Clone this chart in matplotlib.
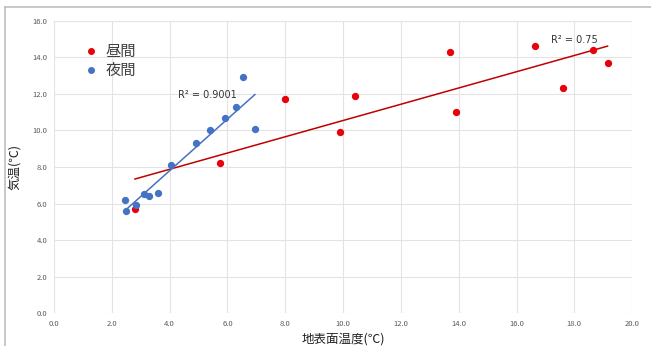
import numpy as np
import matplotlib.pyplot as plt
from matplotlib.lines import Line2D

plt.rcParams['font.family'] = ['Noto Sans CJK JP', 'DejaVu Sans']

# daytime (昼間)
day_x = [2.8, 5.75, 8.0, 9.9, 10.4, 13.7, 13.9, 16.65, 17.6, 18.65, 19.15]
day_y = [5.7, 8.2, 11.7, 9.9, 11.9, 14.3, 11.0, 14.6, 12.3, 14.4, 13.7]

# night (夜間)
night_x = [2.45, 2.5, 2.85, 3.1, 3.3, 3.6, 4.05, 4.9, 5.4, 5.9, 6.3, 6.55, 6.95]
night_y = [6.2, 5.6, 5.9, 6.5, 6.4, 6.6, 8.1, 9.3, 10.0, 10.7, 11.3, 12.9, 10.1]

labels = ['昼間', '夜間']
r2_labels = ['R² = 0.75', 'R² = 0.9001']
red = '#e8000b'
blue = '#4472c4'

fig = plt.figure(figsize=(6.51, 3.46), dpi=100)
ax = fig.add_axes([0.083, 0.0945, 0.888, 0.846])

# trendlines (least squares over the data range)
for xs, ys, col in [(day_x, day_y, '#c00000'), (night_x, night_y, blue)]:
    xs = np.array(xs)
    ys = np.array(ys)
    k, b = np.polyfit(xs, ys, 1)
    xx = np.array([xs.min(), xs.max()])
    ax.plot(xx, k * xx + b, color=col, lw=1.1, zorder=2)

ax.scatter(day_x, day_y, s=18, color=red, zorder=3, label=labels[0])
ax.scatter(night_x, night_y, s=18, color=blue, zorder=3, label=labels[1])

ax.text(17.2, 14.8, r2_labels[0], fontsize=7, color='#333333', family=['DejaVu Sans'])
ax.text(4.3, 11.75, r2_labels[1], fontsize=7, color='#333333', family=['DejaVu Sans'])

ax.set_xlim(0, 20)
ax.set_ylim(0, 16)
ax.set_xticks(np.arange(0, 21, 2))
ax.set_yticks(np.arange(0, 17, 2))
ax.set_xticklabels([f'{v:.1f}' for v in np.arange(0, 21, 2)])
ax.set_yticklabels([f'{v:.1f}' for v in np.arange(0, 17, 2)])
ax.tick_params(labelsize=5.5, colors='#595959', length=0, pad=5)
ax.grid(color='#e3e3e3', lw=0.8)
ax.set_axisbelow(True)
for s in ax.spines.values():
    s.set_visible(False)

ax.set_xlabel('地表面温度(℃)', fontsize=9, color='#222222', labelpad=3)
ax.set_ylabel('気温(℃)', fontsize=9, color='#222222', labelpad=8)

handles = [Line2D([], [], marker='o', ls='', color=red, markersize=4),
           Line2D([], [], marker='o', ls='', color=blue, markersize=4)]
ax.legend(handles, labels, loc='upper left', bbox_to_anchor=(0.025, 0.97),
          frameon=False, fontsize=11, handletextpad=0.3, labelspacing=0.15,
          handlelength=1.2, labelcolor='#404040')

# outer frame (top and left only)
fig.add_artist(Line2D([0.008, 1.0], [0.98, 0.98], color='#bfbfbf', lw=1.2))
fig.add_artist(Line2D([0.008, 0.008], [0.0, 0.98], color='#bfbfbf', lw=1.2))

fig.savefig('out.png', dpi=100)
